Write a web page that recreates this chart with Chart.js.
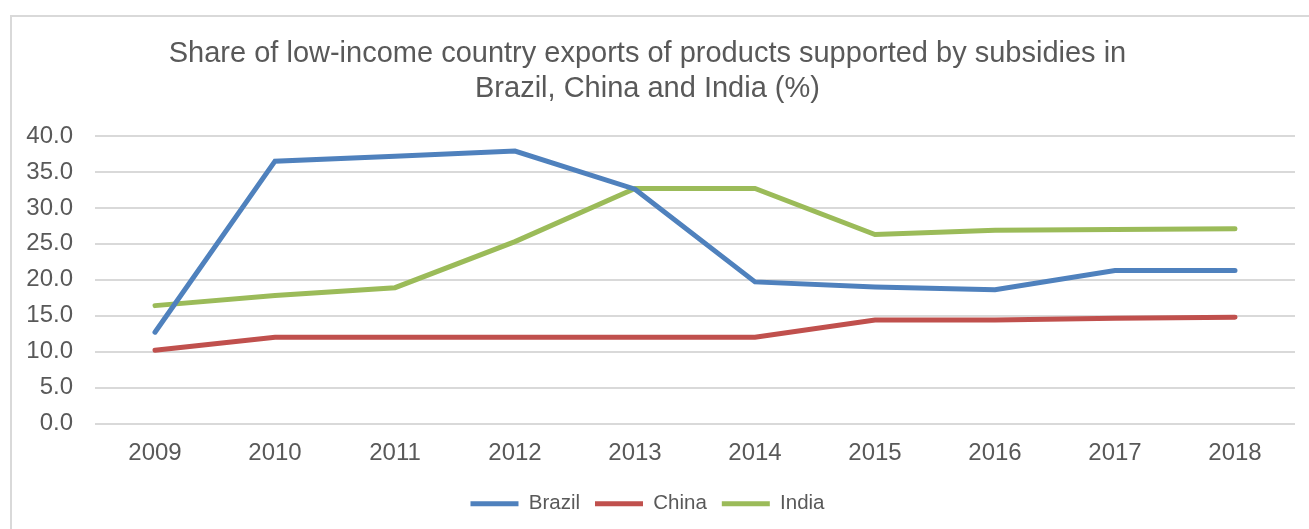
<!DOCTYPE html>
<html>
<head>
<meta charset="utf-8">
<script src="https://cdn.jsdelivr.net/npm/chart.js@4/dist/chart.umd.min.js"></script>
<style>
  html, body { margin: 0; padding: 0; background: #ffffff; overflow: hidden; }
  #frame { position: absolute; left: 10px; top: 15px; width: 1310px; height: 530px;
           border-top: 2px solid #d9d9d9; border-left: 2px solid #d9d9d9; box-sizing: border-box; }
  #wrap { position: absolute; left: 0; top: 0; width: 1309px; height: 529px; }
</style>
</head>
<body>
<div id="frame"></div>
<div id="wrap"><canvas id="c" width="1309" height="529"></canvas></div>
<script>
const titleLines = ["Share of low-income country exports of products supported by subsidies in", "Brazil, China and India (%)"];
const years = ["2009", "2010", "2011", "2012", "2013", "2014", "2015", "2016", "2017", "2018"];
const brazil = [12.7, 36.5, 37.2, 37.9, 32.6, 19.7, 19.0, 18.6, 21.3, 21.3];
const china  = [10.2, 12.0, 12.0, 12.0, 12.0, 12.0, 14.4, 14.4, 14.65, 14.8];
const india  = [16.4, 17.8, 18.9, 25.3, 32.7, 32.7, 26.3, 26.9, 27.0, 27.1];
const yTicks = [0, 5, 10, 15, 20, 25, 30, 35, 40];

const FONT = "'Liberation Sans', Arial, sans-serif";
const TXT = "#595959";

function ds(label, data, color) {
  return { label, data, borderColor: color, backgroundColor: color, borderWidth: 5,
           pointRadius: 0, pointHoverRadius: 0, tension: 0, borderCapStyle: 'round', borderJoinStyle: 'miter' };
}

new Chart(document.getElementById('c'), {
  type: 'line',
  data: {
    labels: years,
    datasets: [ds('Brazil', brazil, '#4F81BD'), ds('China', china, '#C0504D'), ds('India', india, '#9BBB59')]
  },
  options: {
    responsive: false,
    animation: false,
    devicePixelRatio: 1,
    layout: { padding: { left: 0, right: 14, top: 0, bottom: 5 } },
    plugins: {
      title: {
        display: true, text: titleLines, color: TXT,
        font: { family: FONT, size: 29, weight: 'normal', lineHeight: 1.207 },
        padding: { top: 36.5, bottom: 29.5 }
      },
      legend: {
        position: 'bottom',
        labels: {
          color: TXT, font: { family: FONT, size: 20.5 },
          boxWidth: 48, boxHeight: 5, padding: 15,
          generateLabels(chart) {
            return chart.data.datasets.map((d, i) => ({
              text: d.label, fillStyle: d.borderColor, strokeStyle: d.borderColor,
              lineWidth: 0, hidden: false, datasetIndex: i, fontColor: TXT
            }));
          }
        }
      },
      tooltip: { enabled: false }
    },
    scales: {
      x: {
        offset: true,
        afterFit(axis) { axis.height = 55; },
        grid: { display: false, drawTicks: false },
        border: { display: false },
        ticks: { color: TXT, font: { family: FONT, size: 24 }, padding: 15, maxRotation: 0 }
      },
      y: {
        min: 0, max: 40,
        afterBuildTicks(axis) { axis.ticks = yTicks.map(v => ({ value: v })); },
        afterFit(axis) { axis.width = 95; },
        grid: { color: '#d9d9d9', lineWidth: 2, drawTicks: false },
        border: { display: false },
        ticks: { color: TXT, font: { family: FONT, size: 24 }, padding: 22,
                 callback: v => Number(v).toFixed(1) }
      }
    }
  }
});
</script>
</body>
</html>
